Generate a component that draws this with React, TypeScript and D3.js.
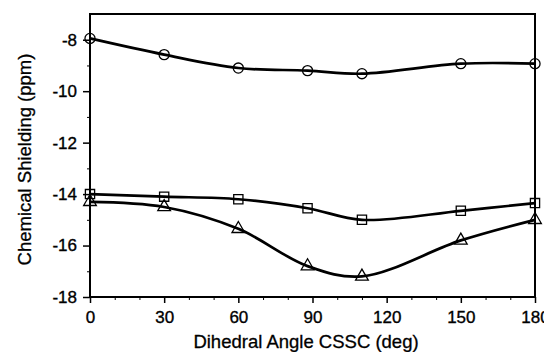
import { useEffect, useRef } from 'react';
import * as d3 from 'd3';

// dihedral angles (deg) where points were computed
const angles = [0, 30, 60, 88, 110, 150, 180];
const circleSeries = [-7.95, -8.58, -9.1, -9.2, -9.32, -8.93, -8.93];
const squareSeries = [-14.0, -14.1, -14.2, -14.55, -15.0, -14.65, -14.35];
const triangleSeries = [-14.3, -14.5, -15.35, -16.8, -17.2, -15.8, -15.0];

const xTicks = [0, 30, 60, 90, 120, 150, 180];
const yTicks = [-8, -10, -12, -14, -16, -18];

export default function App() {
  const ref = useRef<SVGSVGElement>(null);

  useEffect(() => {
    const width = 544;
    const height = 352;
    const margin = { top: 14, right: 9, bottom: 55, left: 90 };
    const svg = d3.select(ref.current);
    svg.selectAll('*').remove();

    const x = d3.scaleLinear().domain([0, 180]).range([margin.left, width - margin.right]);
    const y = d3.scaleLinear().domain([-18, -7]).range([height - margin.bottom, margin.top]);

    const font = 'Liberation Sans, Arial, sans-serif';

    // frame
    svg.append('rect')
      .attr('x', x(0)).attr('y', y(-7))
      .attr('width', x(180) - x(0)).attr('height', y(-18) - y(-7))
      .attr('fill', 'none').attr('stroke', '#000').attr('stroke-width', 2);

    // x axis
    const xAxis = svg.append('g')
      .attr('transform', `translate(0,${y(-18)})`)
      .call(d3.axisBottom(x).tickValues(xTicks).tickSize(6).tickPadding(8).tickFormat(d => String(d)));
    xAxis.select('.domain').remove();
    xAxis.selectAll('line').attr('stroke-width', 1.5);
    xAxis.selectAll('text').attr('font-size', 17).attr('font-family', font)
      .attr('stroke', '#000').attr('stroke-width', 0.35);
    svg.append('g')
      .attr('transform', `translate(0,${y(-18)})`)
      .call(d3.axisBottom(x).tickValues(d3.range(10, 180, 10).filter(v => v % 30 !== 0)).tickSize(3).tickFormat(() => ''))
      .call(g => g.select('.domain').remove());

    // y axis
    const yAxis = svg.append('g')
      .attr('transform', `translate(${x(0)},0)`)
      .call(d3.axisLeft(y).tickValues(yTicks).tickSize(7).tickPadding(6).tickFormat(d => String(d)));
    yAxis.select('.domain').remove();
    yAxis.selectAll('line').attr('stroke-width', 1.5);
    yAxis.selectAll('text').attr('font-size', 17).attr('font-family', font)
      .attr('stroke', '#000').attr('stroke-width', 0.35);
    svg.append('g')
      .attr('transform', `translate(${x(0)},0)`)
      .call(d3.axisLeft(y).tickValues([-9, -11, -13, -15, -17]).tickSize(3).tickFormat(() => ''))
      .call(g => g.select('.domain').remove());

    // axis titles
    svg.append('text')
      .attr('x', 306).attr('y', 348)
      .attr('text-anchor', 'middle')
      .attr('font-size', 18.5).attr('font-family', font)
      .attr('stroke', '#000').attr('stroke-width', 0.3)
      .text('Dihedral Angle CSSC (deg)');
    svg.append('text')
      .attr('transform', `translate(31,${(y(-7) + y(-18)) / 2 + 4}) rotate(-90)`)
      .attr('text-anchor', 'middle')
      .attr('font-size', 18.5).attr('font-family', font)
      .attr('stroke', '#000').attr('stroke-width', 0.3)
      .text('Chemical Shielding (ppm)');

    const line = d3.line<number>()
      .x((_, i) => x(angles[i]))
      .y(d => y(d))
      .curve(d3.curveCatmullRom.alpha(0.5));

    const series = [
      { values: circleSeries, symbol: d3.symbolCircle, size: 80 },
      { values: squareSeries, symbol: d3.symbolSquare, size: 85 },
      { values: triangleSeries, symbol: d3.symbolTriangle, size: 70 },
    ];

    series.forEach(s => {
      svg.append('path')
        .datum(s.values)
        .attr('d', line)
        .attr('fill', 'none')
        .attr('stroke', '#000')
        .attr('stroke-width', 2.7);
      svg.append('g').selectAll('path')
        .data(s.values)
        .enter()
        .append('path')
        .attr('transform', (d, i) => `translate(${x(angles[i])},${y(d)})`)
        .attr('d', d3.symbol().type(s.symbol).size(s.size)())
        .attr('fill', 'none')
        .attr('stroke', '#000')
        .attr('stroke-width', 1.3);
    });
  }, []);

  return <svg ref={ref} width={544} height={352} style={{ position: 'absolute', left: 0, top: 0, background: '#fff' }} />;
}
